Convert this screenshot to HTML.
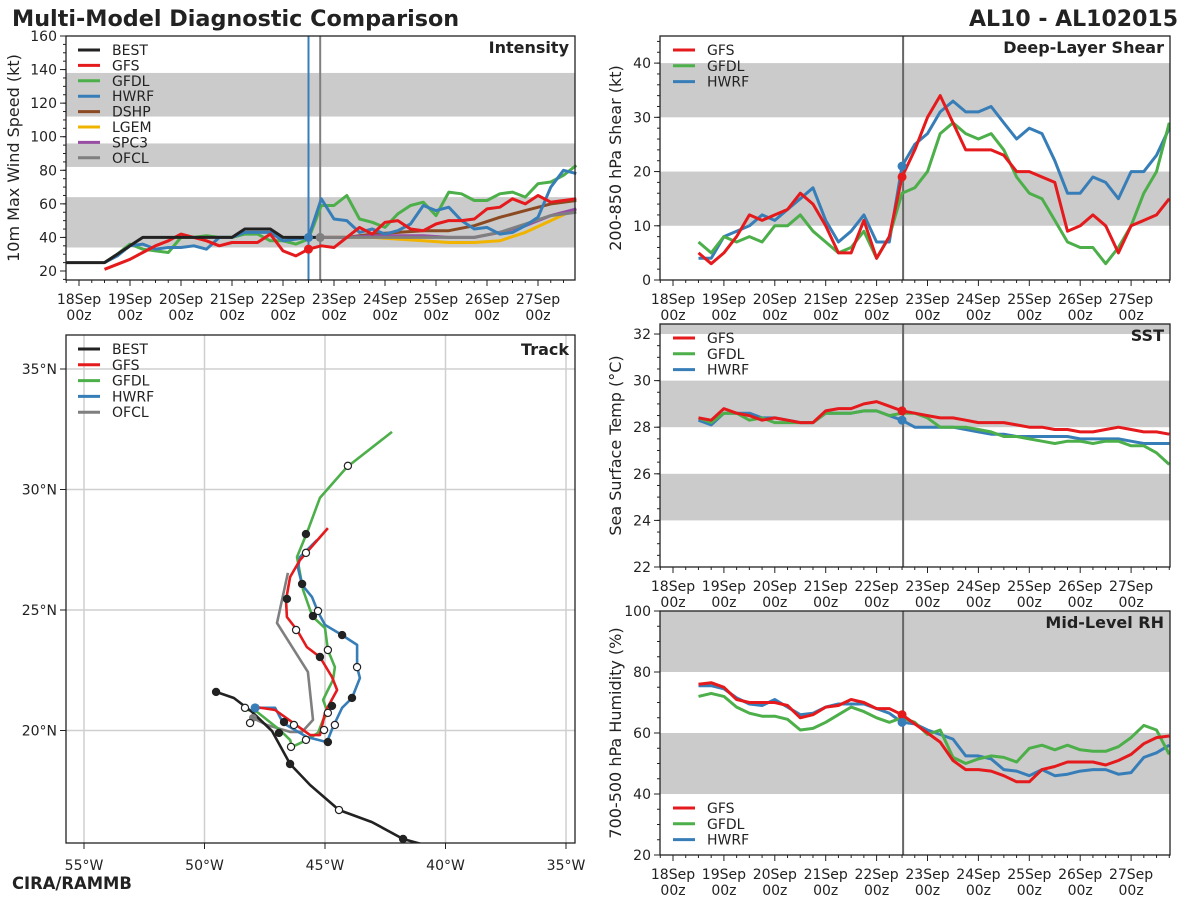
<!DOCTYPE html>
<html><head><meta charset="utf-8"><style>
html,body{margin:0;padding:0;background:#fff;}
svg{display:block;font-family:"DejaVu Sans","Liberation Sans",sans-serif;}
</style></head><body>
<svg id="c" width="1200" height="900" viewBox="0 0 1200 900" xmlns="http://www.w3.org/2000/svg">
<text x="12" y="26" font-size="22.3" font-weight="bold" fill="#222">Multi-Model Diagnostic Comparison</text>
<text x="1178" y="26" font-size="22" font-weight="bold" fill="#222" text-anchor="end">AL10 - AL102015</text>
<text x="12" y="889" font-size="16.4" font-weight="bold" fill="#222">CIRA/RAMMB</text>
</svg>
<script>
const COL={BEST:'#222222',GFS:'#e41a1c',GFDL:'#4daf4a',HWRF:'#377eb8',DSHP:'#8c4a22',LGEM:'#f0b400',SPC3:'#984ea3',OFCL:'#7f7f7f'};
// hours since 18Sep 00z
const hrsBest=[-6,0,6,12,18,24,30,36,42,48,54,60,66,72,78,84,90,96,102,108,114];
const intBest=[25,25,25,25,30,35,40,40,40,40,40,40,40,40,45,45,45,40,40,40,40];
const hrsMod=[12,18,24,30,36,42,48,54,60,66,72,78,84,90,96,102,108,114,120,126,132,138,144,150,156,162,168,174,180,186,192,198,204,210,216,222,228,234];
const intGFS=[21,24,27,31,35,38,42,40,38,35,37,37,37,42,32,29,33,35,34,40,46,42,49,50,45,44,48,50,50,51,57,58,63,60,65,61,62,63];
const intGFDL=[25,30,36,33,32,31,40,40,41,40,40,42,42,38,38,36,39,59,59,65,51,49,46,54,59,61,53,67,66,62,62,66,67,64,72,73,77,83];
const intHWRF=[25,29,35,36,33,34,34,35,33,40,40,43,43,43,38,39,40,63,51,50,43,45,42,44,48,59,56,58,50,45,46,42,43,47,52,70,80,78];
const hrsStat=[114,126,138,150,162,174,186,198,210,222,234];
const intDSHP=[40,40,42,43,44,44,47,52,56,60,62];
const intLGEM=[40,40,40,39,38,37,37,38,43,50,57];
const intSPC3=[40,40,41,41,41,40,40,43,47,53,57];
const intOFCL=[40,40,40,40,40,40,40,43,48,53,55];
const shrGFS=[5,3,5,8,12,11,12,13,16,14,10,5,5,11,4,8,19,24,30,34,29,24,24,24,23,20,20,19,18,9,10,12,10,5,10,11,12,15];
const shrGFDL=[7,5,8,7,8,7,10,10,12,9,7,5,6,9,4,8,16,17,20,27,29,27,26,27,24,19,16,15,11,7,6,6,3,6,10,16,20,29];
const shrHWRF=[4,4,8,9,10,12,11,13,15,17,11,7,9,12,7,7,21,25,27,31,33,31,31,32,29,26,28,27,22,16,16,19,18,15,20,20,23,28];
const sstGFS=[28.4,28.3,28.8,28.6,28.5,28.3,28.4,28.3,28.2,28.2,28.7,28.8,28.8,29.0,29.1,28.9,28.7,28.6,28.5,28.4,28.4,28.3,28.2,28.2,28.2,28.1,28.0,28.0,27.9,27.9,27.8,27.8,27.9,28.0,27.9,27.8,27.8,27.7];
const sstGFDL=[28.4,28.2,28.6,28.6,28.3,28.4,28.2,28.2,28.2,28.2,28.6,28.6,28.6,28.7,28.7,28.5,28.6,28.6,28.4,28.0,28.0,28.0,27.9,27.8,27.6,27.6,27.5,27.4,27.3,27.4,27.4,27.3,27.4,27.4,27.2,27.2,26.9,26.4];
const sstHWRF=[28.3,28.1,28.6,28.6,28.6,28.4,28.4,28.3,28.2,28.2,28.6,28.6,28.6,28.7,28.7,28.5,28.3,28.0,28.0,28.0,28.0,27.9,27.8,27.7,27.7,27.6,27.6,27.6,27.6,27.6,27.5,27.5,27.5,27.5,27.4,27.3,27.3,27.3];
const rhGFS=[76,76.5,75,71,70,70,70,69,65,66,68.5,69,71,70,68,68,66,63,60,57,51,48,48,47.5,46,44,44,48,49,50.5,50.5,50.5,49.5,51,53,56.5,58.5,59];
const rhGFDL=[72,73,72,68.5,66.5,65.5,65.5,64.5,61,61.5,63.5,66,68.5,67,65,63.5,65,63.5,59.5,61,52,50,51.5,52.5,52,50.5,55,56,54.5,56,54.5,54,54,55.5,58.5,62.5,61,53];
const rhHWRF=[75.5,75.5,74.5,71.5,69.5,69,71,68.5,66,66.5,68.5,69.5,69.5,69.5,68,66.5,63.5,63,61,59.5,58,52.5,52.5,51.5,48,47.5,46,48,46,46.5,47.5,48,48,46.5,47,52,53.5,56];
const dayLabels=['18Sep','19Sep','20Sep','21Sep','22Sep','23Sep','24Sep','25Sep','26Sep','27Sep'];
// track (deg W, deg N)
const bestLon=[49.52,48.78,48.03,47.20,46.45,45.62,44.42,43.05,41.76,40.85];
const bestLat=[21.60,21.35,20.77,19.98,18.61,17.74,16.70,16.20,15.50,15.25];
const gfsLon=[47.90,47.07,46.37,45.62,45.21,45.00,44.88,44.50,44.71,45.21,45.75,46.16,46.58,46.62,46.45,46.04,44.88];
const gfsLat=[20.98,20.85,20.35,19.81,19.81,20.73,20.98,21.68,22.22,23.05,23.46,24.17,24.71,25.41,26.37,27.07,28.40];
const gfdlLon=[48.20,47.82,46.87,46.45,46.37,45.75,45.29,45.08,44.88,45.08,44.88,44.67,44.59,44.88,45.00,45.50,45.62,45.91,46.16,45.75,45.21,44.09,42.22];
const gfdlLat=[20.85,20.77,20.02,19.61,19.32,19.61,19.90,20.44,20.73,21.27,21.68,22.10,22.63,23.34,24.25,24.71,25.00,25.83,27.20,28.20,29.65,30.93,32.39];
const hwrfLon=[47.90,47.07,46.74,45.75,44.92,44.67,44.29,43.88,43.55,43.67,43.67,44.29,45.00,45.29,45.54,45.95,46.12,46.04,45.33];
const hwrfLat=[20.94,20.94,20.31,19.73,19.52,20.15,20.94,21.35,22.18,22.63,23.55,23.96,24.38,24.92,25.54,26.04,26.74,27.20,27.90];
const ofclLon=[47.99,47.41,46.45,45.95,45.50,45.71,46.99,46.54];
const ofclLat=[20.52,20.23,19.94,19.94,20.44,22.43,24.46,26.54];
const mkLon=[49.52,46.45,44.42,41.76,48.32,48.11,46.70,46.29,44.71,45.21,46.20,46.58,46.91,46.41,45.79,45.04,44.88,44.88,45.50,45.79,44.05,44.88,44.59,43.88,43.67,44.29,45.29,45.95,45.79];
const mkLat=[21.60,18.61,16.70,15.50,20.94,20.31,20.35,20.23,21.02,23.05,24.17,25.46,19.90,19.32,19.61,20.02,20.73,23.34,24.75,28.15,30.98,19.52,20.23,21.35,22.63,23.96,24.96,26.08,27.37];
const mkFill=[1,1,0,1,0,0,1,0,1,1,0,1,1,0,0,0,0,0,1,1,0,1,0,1,0,1,0,1,0];

const svg=document.getElementById('c');
const NS='http://www.w3.org/2000/svg';
function mk(tag,attrs,parent){const e=document.createElementNS(NS,tag);for(const k in attrs)e.setAttribute(k,attrs[k]);(parent||svg).appendChild(e);return e;}
function txt(s,attrs,parent){const e=mk('text',attrs,parent);e.textContent=s;return e;}

function panel(o){
  const g=mk('g',{});
  
  
  const L=o.l,R=o.r;
  (o.bands||[]).forEach(b=>{
    const r=mk('rect',{x:L,y:o.Y(Math.min(b[1],o.ymax)),width:R-L,height:o.Y(b[0])-o.Y(Math.min(b[1],o.ymax)),fill:'#cbcbcb'},g);
    
    
  });
  return g;
}
function frame(g,o){
  const f=mk('rect',{x:o.l,y:o.t,width:o.r-o.l,height:o.b-o.t,fill:'none',stroke:'#222','stroke-width':1.3},g);
  
  
}
function timeAxis(g,o){
  for(let h=-6;h<=234;h+=6){const x=o.X(h);if(x<o.l||x>o.r)continue;const maj=h%24===0;
    mk('line',{x1:x,x2:x,y1:o.b,y2:o.b+(maj?6:3),stroke:'#222','stroke-width':1},g);}
  dayLabels.forEach((d,i)=>{const x=o.X(i*24);
    const t=txt(d,{x:x,y:o.b+24,'font-size':14,'text-anchor':'middle',fill:'#222'},g);
    
    
    txt('00z',{x:x,y:o.b+40,'font-size':14,'text-anchor':'middle',fill:'#222'},g);});
}
function yAxis(g,o,ticks,minor,title,tx){
  for(let v=o.ymin;v<=o.ymax+1e-6;v+=minor){const y=o.Y(v);mk('line',{x1:o.l-3,x2:o.l,y1:y,y2:y,stroke:'#222','stroke-width':1},g);}
  ticks.forEach(v=>{const y=o.Y(v);mk('line',{x1:o.l-6,x2:o.l,y1:y,y2:y,stroke:'#222','stroke-width':1},g);
    const t=txt(String(v),{x:o.l-9,y:y+5,'font-size':14,'text-anchor':'end',fill:'#222'},g);
    
    });
  const cy=(o.t+o.b)/2;
  const t=txt(title,{x:tx,y:cy,'font-size':16,'text-anchor':'middle',fill:'#222',transform:`rotate(-90 ${tx} ${cy})`},g);
  
  
}
function series(g,o,hrs,vals,col,name,w){
  let d='';hrs.forEach((h,i)=>{d+=(i?'L':'M')+o.X(h).toFixed(1)+','+o.Y(vals[i]).toFixed(1);});
  const p=mk('path',{d:d,fill:'none',stroke:col,'stroke-width':w||3,'stroke-linejoin':'round'},g);
  
  
}
function legend(g,x,y0,dy,names){
  names.forEach((n,i)=>{const y=y0+i*dy;
    const l=mk('line',{x1:x,x2:x+22,y1:y,y2:y,stroke:COL[n],'stroke-width':3},g);
    
    
    const t=txt(n,{x:x+34,y:y+5,'font-size':14,fill:'#222'},g);
    
    });
}
function ptitle(g,o,s){const t=txt(s,{x:o.r-6,y:o.t+17,'font-size':16,'font-weight':'bold','text-anchor':'end',fill:'#222'},g);
  
  }
function vline(g,o,h,col,name){const l=mk('line',{x1:o.X(h),x2:o.X(h),y1:o.t,y2:o.b,stroke:col,'stroke-width':2},g);
  
  }
function dot(g,o,h,v,col){mk('circle',{cx:o.X(h),cy:o.Y(v),r:4.5,fill:col},g);}

// Intensity
(function(){
  const o={l:66,r:575,t:36,b:280,ymin:15,ymax:160};
  o.X=h=>79+h*51/24; o.Y=v=>36+(160-v)*(235/140);
  const g=panel(Object.assign(o,{name:'intensity-panel',bands:[[34,64],[82,96],[112,138]]}));
  vline(g,o,108,COL.HWRF,'hwrf-init-line');
  vline(g,o,113.5,COL.OFCL,'ofcl-init-line');
  series(g,o,hrsStat,intDSHP,COL.DSHP,'dshp-line');
  series(g,o,hrsStat,intLGEM,COL.LGEM,'lgem-line');
  series(g,o,hrsStat,intSPC3,COL.SPC3,'spc3-line');
  series(g,o,hrsStat,intOFCL,COL.OFCL,'ofcl-line');
  series(g,o,hrsMod,intGFDL,COL.GFDL,'gfdl-line');
  series(g,o,hrsMod,intHWRF,COL.HWRF,'hwrf-line');
  series(g,o,hrsMod,intGFS,COL.GFS,'gfs-line');
  series(g,o,hrsBest,intBest,COL.BEST,'best-line');
  dot(g,o,108,intGFS[16],COL.GFS);dot(g,o,108,intHWRF[16],COL.HWRF);dot(g,o,113.5,intOFCL[0],COL.OFCL);
  frame(g,o);timeAxis(g,o);
  yAxis(g,o,[20,40,60,80,100,120,140,160],5,'10m Max Wind Speed (kt)',19);
  legend(g,78,50,15.4,['BEST','GFS','GFDL','HWRF','DSHP','LGEM','SPC3','OFCL']);
  ptitle(g,o,'Intensity');
})();
function rightPanel(name,t,b,ymin,ymax,bands,ticks,minor,title,a,bb,c,ttl,legY){
  const o={l:660,r:1170,t:t,b:b,ymin:ymin,ymax:ymax};
  o.X=h=>673+h*50.9/24; o.Y=v=>b-(v-ymin)*(b-t)/(ymax-ymin);
  const g=panel(Object.assign(o,{name:name,bands:bands}));
  vline(g,o,108.5,'#666','init-time-line');
  series(g,o,hrsMod,c,COL.HWRF,'hwrf-line');
  series(g,o,hrsMod,bb,COL.GFDL,'gfdl-line');
  series(g,o,hrsMod,a,COL.GFS,'gfs-line');
  dot(g,o,108,a[16],COL.GFS);dot(g,o,108,c[16],COL.HWRF);
  frame(g,o);timeAxis(g,o);
  yAxis(g,o,ticks,minor,title,621);
  legend(g,673,legY,15.8,['GFS','GFDL','HWRF']);
  ptitle(g,o,ttl);
}
rightPanel('shear-panel',36,280,0,45,[[10,20],[30,40]],[0,10,20,30,40],2,'200-850 hPa Shear (kt)',shrGFS,shrGFDL,shrHWRF,'Deep-Layer Shear',50);
rightPanel('sst-panel',324,567,22,32.43,[[24,26],[28,30],[32,32.43]],[22,24,26,28,30,32],0.5,'Sea Surface Temp (°C)',sstGFS,sstGFDL,sstHWRF,'SST',338);
rightPanel('rh-panel',611,855,20,100,[[40,60],[80,100]],[20,40,60,80,100],5,'700-500 hPa Humidity (%)',rhGFS,rhGFDL,rhHWRF,'Mid-Level RH',808);

// Track
(function(){
  const o={l:66,r:575,t:335,b:843};
  const X=lon=>84+(55-lon)*24.1, Y=lat=>369+(35-lat)*24.1;
  const g=mk('g',{});
  
  
  const cp=mk('clipPath',{id:'tc'},g);mk('rect',{x:o.l,y:o.t,width:o.r-o.l,height:o.b-o.t},cp);
  const inner=mk('g',{'clip-path':'url(#tc)'},g);
  [55,50,45,40,35].forEach(l=>mk('line',{x1:X(l),x2:X(l),y1:o.t,y2:o.b,stroke:'#cfcfcf','stroke-width':1.5},inner));
  [35,30,25,20].forEach(l=>mk('line',{x1:o.l,x2:o.r,y1:Y(l),y2:Y(l),stroke:'#cfcfcf','stroke-width':1.5},inner));
  function trk(lo,la,col,name){let d='';lo.forEach((v,i)=>{d+=(i?'L':'M')+X(v).toFixed(1)+','+Y(la[i]).toFixed(1);});
    const p=mk('path',{d:d,fill:'none',stroke:col,'stroke-width':2.6,'stroke-linejoin':'round'},inner);
    
    }
  trk(ofclLon,ofclLat,COL.OFCL,'ofcl-track');
  trk(gfdlLon,gfdlLat,COL.GFDL,'gfdl-track');
  trk(hwrfLon,hwrfLat,COL.HWRF,'hwrf-track');
  trk(gfsLon,gfsLat,COL.GFS,'gfs-track');
  trk(bestLon,bestLat,COL.BEST,'best-track');
  mk('circle',{cx:X(hwrfLon[0]),cy:Y(hwrfLat[0]),r:4.5,fill:COL.HWRF},inner);
  mk('circle',{cx:X(ofclLon[0]),cy:Y(ofclLat[0]),r:4,fill:COL.OFCL},inner);
  mkLon.forEach((v,i)=>{const c=mk('circle',{cx:X(v),cy:Y(mkLat[i]),r:3.6,fill:mkFill[i]?'#222':'#fff',stroke:'#222','stroke-width':1.2},inner);
    
    });
  mk('rect',{x:o.l,y:o.t,width:o.r-o.l,height:o.b-o.t,fill:'none',stroke:'#222','stroke-width':1.3},g);
  [55,50,45,40,35].forEach(l=>{mk('line',{x1:X(l),x2:X(l),y1:o.b,y2:o.b+6,stroke:'#222'},g);
    const t=txt(l+'°W',{x:X(l),y:o.b+27,'font-size':14,'text-anchor':'middle',fill:'#222'},g);
    
    });
  [35,30,25,20].forEach(l=>{mk('line',{x1:o.l-6,x2:o.l,y1:Y(l),y2:Y(l),stroke:'#222'},g);
    const t=txt(l+'°N',{x:o.l-9,y:Y(l)+5,'font-size':14,'text-anchor':'end',fill:'#222'},g);
    
    });
  legend(g,78,349,15.8,['BEST','GFS','GFDL','HWRF','OFCL']);
  const t=txt('Track',{x:o.r-6,y:o.t+20,'font-size':16,'font-weight':'bold','text-anchor':'end',fill:'#222'},g);
  
  
})();
</script>
</body></html>
